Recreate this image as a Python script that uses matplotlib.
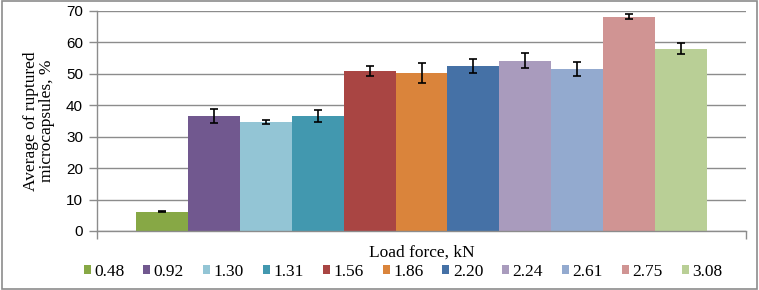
import numpy as np
import matplotlib.pyplot as plt
from matplotlib.patches import Rectangle

# Load force categories (kN) and mean ruptured microcapsules (%)
loads = ["0.48", "0.92", "1.30", "1.31", "1.56", "1.86", "2.20", "2.24", "2.61", "2.75", "3.08"]
ruptured = [6.1, 36.6, 34.7, 36.5, 50.8, 50.3, 52.5, 54.2, 51.6, 68.2, 58.0]
errors = [0.2, 2.1, 0.6, 1.9, 1.6, 3.1, 2.3, 2.4, 2.3, 0.8, 1.7]
colors = ["#87A845", "#71588F", "#93C5D5", "#4298AF", "#A94543", "#DA843B",
          "#4571A6", "#A99BBD", "#93AACF", "#D09493", "#B9CF96"]

serif = ["Liberation Serif", "DejaVu Serif"]
sans = ["Liberation Sans", "DejaVu Sans"]

fig = plt.figure(figsize=(7.59, 2.90), dpi=100)
ax = fig.add_axes([97 / 759, 1 - 231 / 290, 649 / 759, 220 / 290])

x = np.arange(len(loads))
for i in range(len(loads)):
    ax.bar(x[i], ruptured[i], width=1.0, color=colors[i], label=loads[i], zorder=2,
           yerr=errors[i], capsize=3,
           error_kw=dict(ecolor="black", elinewidth=1.2, capthick=1.2, zorder=3))

ax.set_xlim(-1.25, 11.25)
ax.set_ylim(0, 70)
ax.set_yticks(range(0, 71, 10))
ax.set_xticks([-1.25, 11.25])
ax.set_xticklabels(["", ""])
ax.tick_params(axis="x", length=6, color="#8c8c8c", width=1)
ax.tick_params(axis="y", length=6, color="#8c8c8c", width=1, labelsize=11, pad=4)
for lab in ax.get_yticklabels():
    lab.set_fontfamily(sans)
ax.yaxis.grid(True, color="#8c8c8c", linewidth=1, zorder=0)
ax.set_axisbelow(True)
for side in ["top", "right"]:
    ax.spines[side].set_visible(False)
for side in ["left", "bottom"]:
    ax.spines[side].set_color("#8c8c8c")
    ax.spines[side].set_linewidth(1)

ax.set_ylabel("Average of ruptured\nmicrocapsules, %", fontsize=12.5, family=serif, labelpad=8,
              linespacing=1.0)
ax.set_xlabel("Load force, kN", fontsize=12.5, family=serif)
ax.xaxis.set_label_coords(0.5, -0.06)

leg = fig.legend(loc="center", bbox_to_anchor=(0.531, 1 - 272 / 290), ncol=11,
                 frameon=False, fontsize=12.5,
                 handlelength=0.4, handleheight=0.4, handletextpad=0.2, columnspacing=1.1)
for t in leg.get_texts():
    t.set_fontfamily(serif)

fig.patches.append(Rectangle((0.002, 0.004), 0.995, 0.992, transform=fig.transFigure,
                             fill=False, edgecolor="#8c8c8c", linewidth=1.2))

fig.savefig("out.png", dpi=100)
